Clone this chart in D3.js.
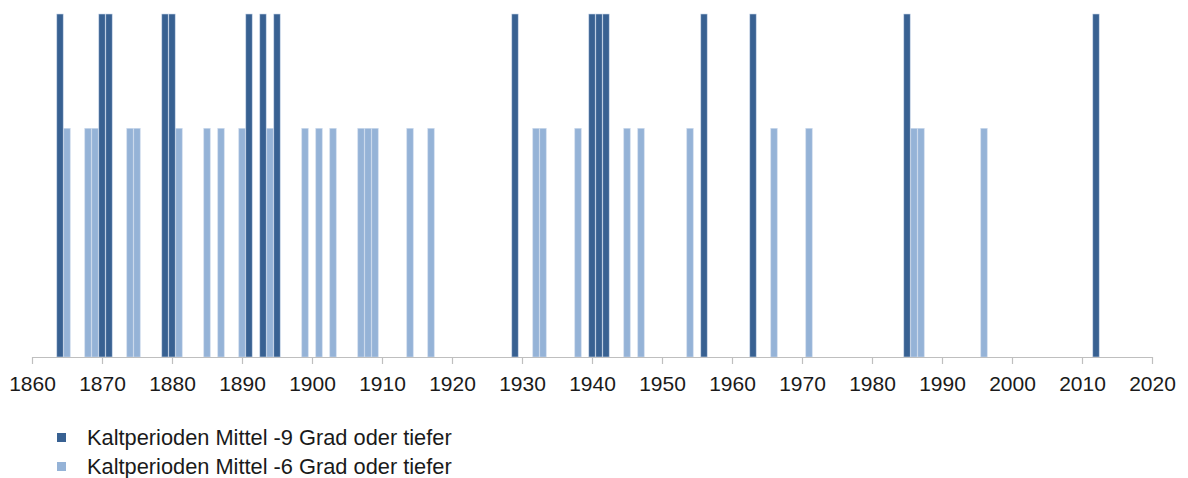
<!DOCTYPE html>
<html>
<head>
<meta charset="utf-8">
<script src="https://cdn.jsdelivr.net/npm/d3@7"></script>
<style>
  body { margin: 0; background: #fff; }
  svg { display: block; font-family: 'Liberation Sans', Arial, sans-serif; }
</style>
</head>
<body>
<div id="chart"></div>
<script>
'use strict';

// Jahre mit Kaltperioden (Mittel -9 Grad oder tiefer)
const yearsCold9 = [1864, 1870, 1871, 1879, 1880, 1891, 1893, 1895, 1929,
  1940, 1941, 1942, 1956, 1963, 1985, 2012];
// Jahre mit Kaltperioden (Mittel -6 Grad oder tiefer)
const yearsCold6 = [1865, 1868, 1869, 1874, 1875, 1881, 1885, 1887, 1890,
  1894, 1899, 1901, 1903, 1907, 1908, 1909, 1914, 1917, 1932, 1933, 1938,
  1945, 1947, 1954, 1966, 1971, 1986, 1987, 1996];
const valueCold9 = 3;
const valueCold6 = 2;
const seriesNames = [
  'Kaltperioden Mittel -9 Grad oder tiefer',
  'Kaltperioden Mittel -6 Grad oder tiefer',
];
const xTicks = d3.range(1860, 2021, 10);

const width = 1188;
const height = 478;
const colors = ['#386192', '#95b3d7'];

const svg = d3
  .select('#chart')
  .append('svg')
  .attr('width', width)
  .attr('height', height);

const x = d3.scaleLinear().domain([1860, 2020]).range([32, 1152]);
const y = d3.scaleLinear().domain([0, valueCold9]).range([357, 14]);
const bw = x(1861) - x(1860);

const bars = [
  ...yearsCold6.map((yr) => ({ year: yr, value: valueCold6, s: 1 })),
  ...yearsCold9.map((yr) => ({ year: yr, value: valueCold9, s: 0 })),
];

svg
  .append('g')
  .selectAll('rect')
  .data(bars)
  .enter()
  .append('rect')
  .attr('x', (d) => x(d.year) - bw / 2 + 0.3)
  .attr('y', (d) => y(d.value))
  .attr('width', bw - 0.6)
  .attr('height', (d) => y(0) - y(d.value))
  .attr('fill', (d) => colors[d.s])
  .attr('stroke', '#c9d8ec')
  .attr('stroke-width', 0.6);

const axis = svg
  .append('g')
  .attr('transform', 'translate(0,' + y(0) + ')')
  .call(
    d3.axisBottom(x)
      .tickValues(xTicks)
      .tickFormat(d3.format('d'))
      .tickSizeInner(7)
      .tickSizeOuter(0)
      .tickPadding(12)
  );

axis.select('.domain').attr('stroke', '#bfbfbf').attr('stroke-width', 1.2);
axis.selectAll('.tick line').attr('stroke', '#bfbfbf').attr('stroke-width', 1.2);
axis
  .selectAll('.tick text')
  .attr('fill', '#1a1a1a')
  .style('font-size', '21px')
  .style('font-family', "'Liberation Sans', Arial, sans-serif");

// legend
const legend = svg
  .selectAll('.legend')
  .data(seriesNames)
  .enter()
  .append('g')
  .attr('class', 'legend')
  .attr('transform', (d, i) => 'translate(57,' + (433 + i * 29) + ')');

legend
  .append('rect')
  .attr('width', 9)
  .attr('height', 9)
  .attr('fill', (d, i) => colors[i]);

legend
  .append('text')
  .attr('x', 30)
  .attr('y', 4.5)
  .attr('dy', '0.35em')
  .attr('fill', '#1a1a1a')
  .style('font-size', '21.8px')
  .text((d) => d);
</script>
</body>
</html>
